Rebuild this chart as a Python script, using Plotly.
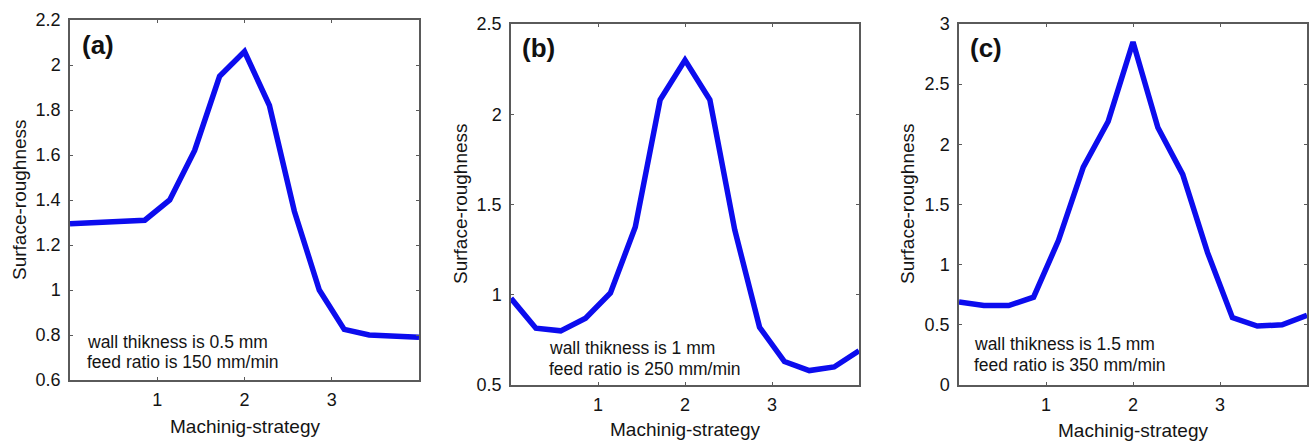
import plotly.graph_objects as go

W, H = 1312, 442

# x positions: 15 evenly spaced samples over 0..4
x_vals = [i * 4 / 14 for i in range(15)]

rough_a = [1.295, 1.30, 1.30, 1.31, 1.40, 1.62, 1.95, 2.06, 1.82, 1.35, 1.00, 0.825, 0.80, 0.795, 0.79]
rough_b = [0.98, 0.815, 0.80, 0.87, 1.01, 1.375, 2.08, 2.30, 2.08, 1.36, 0.82, 0.63, 0.58, 0.60, 0.69]
rough_c = [0.69, 0.66, 0.66, 0.73, 1.20, 1.81, 2.19, 2.85, 2.14, 1.75, 1.10, 0.56, 0.49, 0.50, 0.58]

panel_labels = ["(a)", "(b)", "(c)"]
notes = [
    ["wall thikness is 0.5 mm", "feed ratio is 150 mm/min"],
    ["wall thikness is 1 mm", "feed ratio is 250 mm/min"],
    ["wall thikness is 1.5 mm", "feed ratio is 350 mm/min"],
]
y_ranges = [[0.6, 2.2], [0.5, 2.5], [0, 3]]
y_dticks = [0.2, 0.5, 0.5]
x_tickvals = [1, 2, 3]
x_title = "Machinig-strategy"
y_title = "Surface-roughness"

frames = [(70, 419, 20, 380), (511, 859, 24, 385), (959, 1307, 24, 385)]
label_pos = [(80, 45), (520, 48), (968, 48)]
note_pos = [(85, 342, 362), (547, 348, 369), (972, 344, 365)]
ytitle_pos = [(20, 200), (460, 204), (907, 204)]
xtitle_pos = [(245, 426), (685, 429), (1133, 430)]

def px(x):
    return x / W

def py(y):
    return 1 - y / H

FONT = "Liberation Sans, Arial, sans-serif"
TXT = "#141414"
FRAME = "#5a5a5a"

fig = go.Figure()
series = [rough_a, rough_b, rough_c]
annotations = []
for i, ys in enumerate(series):
    xa = "x" if i == 0 else f"x{i+1}"
    ya = "y" if i == 0 else f"y{i+1}"
    fig.add_trace(go.Scatter(x=x_vals, y=ys, mode="lines",
                             line=dict(color="rgb(12,12,238)", width=5.5),
                             xaxis=xa, yaxis=ya, showlegend=False, hoverinfo="skip"))
    l, r, t, b = frames[i]
    axkey = "" if i == 0 else str(i + 1)
    fig.update_layout(**{
        f"xaxis{axkey}": dict(domain=[px(l), px(r)], range=[0, 4], anchor=ya,
                              tickvals=x_tickvals, ticks="inside", ticklen=3, tickcolor=FRAME,
                              showline=True, linecolor=FRAME, linewidth=1.5, mirror="ticks",
                              showgrid=False, zeroline=False, ticklabelstandoff=3, automargin=False,
                              tickfont=dict(family=FONT, size=18, color=TXT)),
        f"yaxis{axkey}": dict(domain=[py(b), py(t)], range=y_ranges[i], anchor=xa,
                              dtick=y_dticks[i], tick0=0, ticks="inside", ticklen=3, tickcolor=FRAME,
                              showline=True, linecolor=FRAME, linewidth=1.5, mirror="ticks",
                              showgrid=False, zeroline=False, ticklabelstandoff=4, automargin=False,
                              tickfont=dict(family=FONT, size=18, color=TXT)),
    })
    lx, ly = label_pos[i]
    annotations.append(dict(text=f"<b>{panel_labels[i]}</b>", x=px(lx), y=py(ly), xref="paper", yref="paper",
                            xanchor="left", yanchor="middle", showarrow=False,
                            font=dict(family=FONT, size=26, color="#111")))
    nx, n1, n2 = note_pos[i]
    for line, yy in zip(notes[i], (n1, n2)):
        annotations.append(dict(text=line, x=px(nx), y=py(yy), xref="paper", yref="paper",
                                xanchor="left", yanchor="middle", showarrow=False,
                                font=dict(family=FONT, size=17.5, color=TXT)))
    tx, ty = ytitle_pos[i]
    annotations.append(dict(text=y_title, x=px(tx), y=py(ty), xref="paper", yref="paper",
                            xanchor="center", yanchor="middle", textangle=-90, showarrow=False,
                            font=dict(family=FONT, size=19, color=TXT)))
    tx, ty = xtitle_pos[i]
    annotations.append(dict(text=x_title, x=px(tx), y=py(ty), xref="paper", yref="paper",
                            xanchor="center", yanchor="middle", showarrow=False,
                            font=dict(family=FONT, size=19, color=TXT)))

fig.update_layout(width=W, height=H, margin=dict(l=0, r=0, t=0, b=0, autoexpand=False),
                  paper_bgcolor="white", plot_bgcolor="white", annotations=annotations)
fig.write_html("out.html")
